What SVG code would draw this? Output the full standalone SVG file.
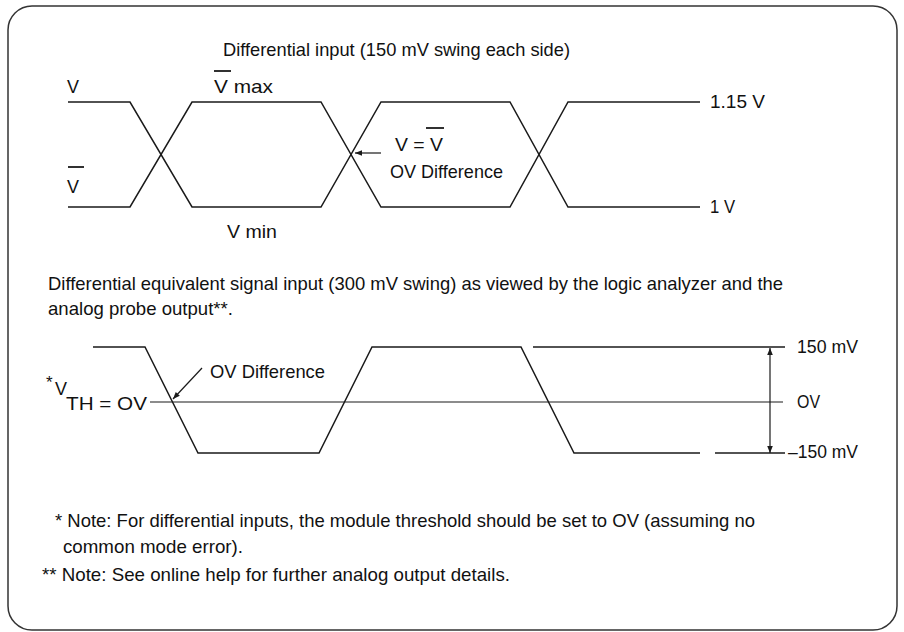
<svg xmlns="http://www.w3.org/2000/svg" width="904" height="632" viewBox="0 0 904 632">
<style>
  text { font-family: "Liberation Sans", Arial, sans-serif; font-size: 19px; fill: #111; }
  .w { fill: none; stroke: #1a1a1a; stroke-width: 1.5; }
  .thin { fill: none; stroke: #1a1a1a; stroke-width: 1.2; }
  .ov { stroke: #1a1a1a; stroke-width: 1.8; }
</style>
<defs>
  <marker id="ah" viewBox="0 0 10 10" refX="10" refY="5" markerWidth="10" markerHeight="7" orient="auto" markerUnits="userSpaceOnUse">
    <path d="M0,1 L10,5 L0,9 Z" fill="#1a1a1a"/>
  </marker>
</defs>
<rect id="frame" x="8" y="6" width="889" height="624" rx="24" ry="24" fill="#ffffff" stroke="#333" stroke-width="1.5"/>

<g id="top-diagram">
  <text id="title1" x="223" y="56" textLength="347" lengthAdjust="spacingAndGlyphs">Differential input (150 mV swing each side)</text>
  <g id="waveform-top">
    <polyline class="w" points="68,102 130,102 192,207 321,207 381,102 510,102 568,207 700,207"/>
    <polyline class="w" points="68,207 130,207 192,102 321,102 381,207 510,207 568,102 700,102"/>
  </g>
  <g id="label-V"><text x="67" y="93" textLength="12" lengthAdjust="spacingAndGlyphs">V</text></g>
  <g id="label-Vbar">
    <text x="67" y="193" textLength="12" lengthAdjust="spacingAndGlyphs">V</text>
    <line class="ov" x1="68" y1="167" x2="84" y2="167"/>
  </g>
  <g id="label-Vbarmax">
    <text x="214" y="93" textLength="59" lengthAdjust="spacingAndGlyphs">V max</text>
    <line class="ov" x1="214" y1="71" x2="231" y2="71"/>
  </g>
  <g id="label-Vmin"><text x="227" y="238" textLength="50" lengthAdjust="spacingAndGlyphs">V  min</text></g>
  <g id="label-VeqVbar">
    <text x="395" y="151" textLength="48" lengthAdjust="spacingAndGlyphs">V = V</text>
    <line class="ov" x1="426" y1="128" x2="444" y2="128"/>
  </g>
  <g id="label-ovdiff1"><text x="390" y="178" textLength="113" lengthAdjust="spacingAndGlyphs">OV Difference</text></g>
  <g id="label-115"><text x="710" y="108" textLength="55" lengthAdjust="spacingAndGlyphs">1.15 V</text></g>
  <g id="label-1v"><text x="710" y="213" textLength="25" lengthAdjust="spacingAndGlyphs">1 V</text></g>
</g>

<g id="mid-text">
  <text x="48" y="290" textLength="735" lengthAdjust="spacingAndGlyphs">Differential equivalent signal input (300 mV swing) as viewed by the logic analyzer and the</text>
  <text x="48" y="315" textLength="185" lengthAdjust="spacingAndGlyphs">analog probe output**.</text>
</g>

<g id="bottom-diagram">
  <g id="waveform-bottom">
    <polyline class="w" points="93,347 145,347 198,453 319,453 372,347 521,347 574,453 700,453"/>
    <line class="w" x1="533" y1="347" x2="785" y2="347"/>
    <line class="w" x1="715" y1="453" x2="785" y2="453"/>
    <line class="thin" x1="150" y1="402" x2="783" y2="402"/>
  </g>
  <g id="label-vth">
    <text x="46" y="388" style="font-size:17px">*</text>
    <text x="55" y="395" textLength="12" lengthAdjust="spacingAndGlyphs">V</text>
    <text x="66" y="410" textLength="81" lengthAdjust="spacingAndGlyphs">TH = OV</text>
  </g>
  <g id="label-ovdiff2"><text x="210" y="378" textLength="115" lengthAdjust="spacingAndGlyphs">OV Difference</text></g>
  <g id="label-150"><text x="797" y="353" textLength="61" lengthAdjust="spacingAndGlyphs">150 mV</text></g>
  <g id="label-0v"><text x="797" y="408" textLength="23" lengthAdjust="spacingAndGlyphs">OV</text></g>
  <g id="label-m150"><text x="788" y="458" textLength="70" lengthAdjust="spacingAndGlyphs">–150 mV</text></g>
</g>

<g id="connectors">
  <line class="thin" x1="381" y1="153" x2="355" y2="153" marker-end="url(#ah)"/>
  <line class="thin" x1="202" y1="368" x2="173" y2="399" marker-end="url(#ah)"/>
  <line class="thin" x1="770" y1="400" x2="770" y2="348" marker-end="url(#ah)"/>
  <line class="thin" x1="770" y1="400" x2="770" y2="453" marker-end="url(#ah)"/>
</g>

<g id="notes">
  <text x="55" y="527" textLength="700" lengthAdjust="spacingAndGlyphs">* Note: For differential inputs, the module threshold should be set to OV (assuming no</text>
  <text x="63" y="553" textLength="180" lengthAdjust="spacingAndGlyphs">common mode error).</text>
  <text x="42" y="581" textLength="468" lengthAdjust="spacingAndGlyphs">** Note: See online help for further analog output details.</text>
</g>
</svg>
